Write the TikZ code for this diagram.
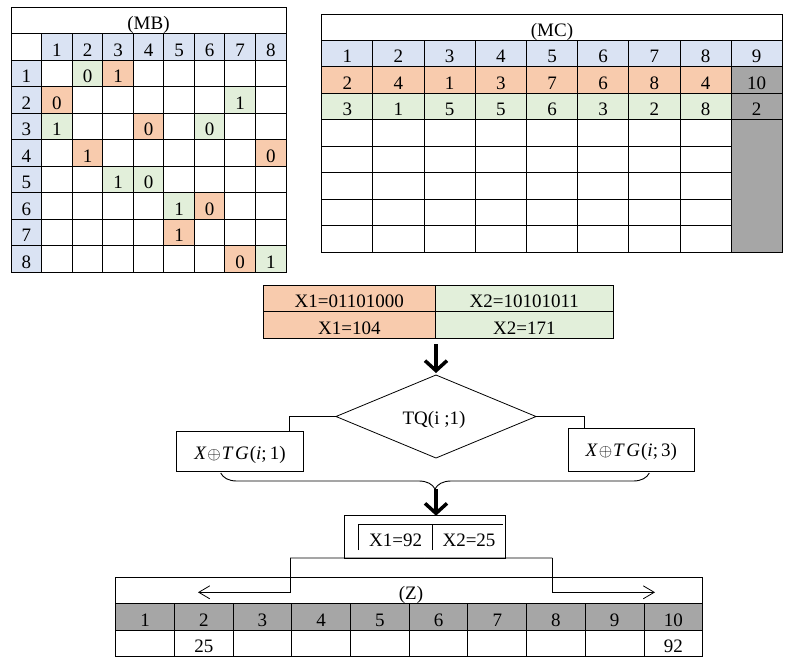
\documentclass[tikz,border=0pt]{standalone}
\usepackage{fontspec}
\setmainfont{Liberation Serif}
\usetikzlibrary{arrows.meta,shapes.geometric,decorations.pathreplacing,calc}
\definecolor{cblue}{HTML}{DAE3F3}
\definecolor{corange}{HTML}{F8CBAD}
\definecolor{cgreen}{HTML}{E2EFDA}
\definecolor{cgray}{HTML}{A6A6A6}
\newcommand{\xtg}[1]{\textit{X}\kern1pt$\oplus$\kern1pt\textit{T}\kern1.5pt\textit{G}\kern1pt(\textit{i};\,#1)}
\begin{document}
\begin{tikzpicture}[x=1pt,y=-1pt,
  font=\fontsize{19}{22}\selectfont,
  gl/.style={line width=0.9pt},
  tb/.style={anchor=base, inner sep=0pt, outer sep=0pt},
  thickarrow/.style={line width=3.5pt, -{Straight Barb[length=10pt,width=22pt]}},
  openarrow/.style={line width=0.8pt, -{Straight Barb[length=11pt,width=13pt]}},
  box/.style={draw, line width=0.9pt, inner sep=0pt, outer sep=0pt, anchor=north west}
]
\useasboundingbox (0,0) rectangle (795,665);

% ================= MB =================
\fill[cblue] (41.7,33) rectangle (286,60);
\fill[cblue] (11,60) rectangle (41.7,272);
\foreach \r/\c/\cc/\t in {1/2/cgreen/0, 1/3/corange/1, 2/1/corange/0, 2/7/cgreen/1,
  3/1/cgreen/1, 3/4/corange/0, 3/6/cgreen/0, 4/2/corange/1, 4/8/corange/0,
  5/3/cgreen/1, 5/4/cgreen/0, 6/5/cgreen/1, 6/6/corange/0, 7/5/corange/1,
  8/7/corange/0, 8/8/cgreen/1}{
  \pgfmathsetmacro\xa{41.7+30.54*(\c-1)}
  \pgfmathsetmacro\ya{60+26.5*(\r-1)}
  \fill[\cc] (\xa,\ya) rectangle ++(30.54,26.5);
  \node[tb] (mb-\r-\c) at (\xa+15.27,\ya+22.5) {\t};
}
\draw[gl] (11,33) -- (286,33);
\foreach \k in {0,...,8} \draw[gl] (11,{60+26.5*\k}) -- (286,{60+26.5*\k});
\foreach \k in {0,...,8} \draw[gl] ({41.7+30.54*\k},33) -- ({41.7+30.54*\k},272);
\node[box, minimum width=275pt, minimum height=265pt] (MB) at (11,7) {};
\node[tb] (mbt) at (148.5,29) {(MB)};
\foreach \k in {1,...,8} {
  \node[tb] (mbh\k) at ({41.7+30.54*(\k-1)+15.27},56) {\k};
  \node[tb] (mbr\k) at (26.35,{60+26.5*\k-4}) {\k};
}

% ================= MC =================
\fill[cblue] (321.7,40) rectangle (782.3,66.54);
\fill[corange] (321.7,66.54) rectangle (731.14,93.08);
\fill[cgreen] (321.7,93.08) rectangle (731.14,119.62);
\fill[cgray] (731.14,66.54) rectangle (782.3,252.6);
\foreach \yy in {40,66.54,93.08,119.62} \draw[gl] (321.7,\yy) -- (782.3,\yy);
\foreach \yy in {146.16,172.7,199.24,225.78} \draw[gl] (321.7,\yy) -- (731.14,\yy);
\foreach \k in {1,...,8} \draw[gl] ({321.7+51.18*\k},40) -- ({321.7+51.18*\k},252.6);
\node[box, minimum width=460.6pt, minimum height=238.3pt] (MC) at (321.7,14.3) {};
\node[tb] (mct) at (552,36) {(MC)};
\foreach \t [count=\k] in {1,2,3,4,5,6,7,8,9}
  \node[tb] (mca\k) at ({321.7+51.18*(\k-0.5)},62.5) {\t};
\foreach \t [count=\k] in {2,4,1,3,7,6,8,4,10}
  \node[tb] (mcb\k) at ({321.7+51.18*(\k-0.5)},89.1) {\t};
\foreach \t [count=\k] in {3,1,5,5,6,3,2,8,2}
  \node[tb] (mcc\k) at ({321.7+51.18*(\k-0.5)},115.6) {\t};

% ================= values =================
\fill[corange] (263.3,285.7) rectangle (435.3,338.3);
\fill[cgreen] (435.3,285.7) rectangle (613.3,338.3);
\draw[gl] (263.3,311.7) -- (613.3,311.7);
\draw[gl] (435.3,285.7) -- (435.3,338.3);
\node[box, minimum width=350pt, minimum height=52.6pt] (vals) at (263.3,285.7) {};
\node[tb] (v1) at (349.3,307.8) {X1=01101000};
\node[tb] (v2) at (524.3,307.8) {X2=10101011};
\node[tb] (v3) at (349.3,334) {X1=104};
\node[tb] (v4) at (524.3,334) {X2=171};

% ================= diamond =================
\node[draw, diamond, line width=0.8pt, minimum width=200pt, minimum height=83pt,
  inner sep=0pt, outer sep=0pt] (dia) at (436,416.5) {};
\node[tb] (diat) at (434,424) {TQ(i ;1)};
\draw[thickarrow] ([yshift=-6pt]vals.south -| dia.north) -- ([yshift=2pt]dia.north);

\node[box, minimum width=126.6pt, minimum height=39.3pt] (lbox) at (176.7,431.7) {};
\node[tb] (lboxt) at (240,459) {\xtg{1}};
\node[box, minimum width=126pt, minimum height=42.7pt] (rbox) at (568.3,428.3) {};
\node[tb] (rboxt) at (631.3,456) {\xtg{3}};

\coordinate (lk) at (289,416.5);
\coordinate (rk) at (584,416.5);
\draw[gl] (dia.west) -- (lk) -- (lk |- lbox.north);
\draw[gl] (dia.east) -- (rk) -- (rk |- rbox.north);

% brace
\coordinate (bl) at (220.7,473);
\coordinate (br) at (649.3,473);
\coordinate (btip) at (436,489);
\draw[gl, decorate, decoration={brace, mirror, amplitude=16pt}] (bl) -- (br);

% ================= result box =================
\node[box, minimum width=160.7pt, minimum height=42.3pt] (res) at (344.3,515.7) {};
\draw[thickarrow] (btip) -- (btip |- res.north);
\draw[gl] (358.7,550) -- (358.7,524) -- (503,524);
\draw[gl] (432.7,524) -- (432.7,550);
\node[tb] (x1r) at (395.7,546) {X1=92};
\node[tb] (x2r) at (469,546) {X2=25};

% ================= Z table =================
\fill[cgray] (115.7,603) rectangle (702.7,630);
\draw[gl] (115.7,603) -- (702.7,603);
\draw[gl] (115.7,630) -- (702.7,630);
\foreach \k in {1,...,9} \draw[gl] ({115.7+58.7*\k},603) -- ({115.7+58.7*\k},656);
\node[box, minimum width=587pt, minimum height=78.7pt] (Z) at (115.7,577.3) {};
\node[tb] (zt) at (411,599) {(Z)};
\foreach \k in {1,...,10}
  \node[tb] (zh\k) at ({115.7+58.7*(\k-0.5)},626) {\k};
\node[tb] (zv2) at ({115.7+58.7*1.5},652) {25};
\node[tb] (zv10) at ({115.7+58.7*9.5},652) {92};

% Z arrows
\coordinate (kl) at (290,558);
\coordinate (kr) at (552.3,558);
\coordinate (zl) at (198,592.3);
\coordinate (zr) at (655,592.3);
\draw[gl] (res.south) -- (kl);
\draw[gl] (res.south) -- (kr);
\draw[openarrow] (kl) -- (kl |- zl) -- (zl);
\draw[openarrow] (kr) -- (kr |- zr) -- (zr);
\end{tikzpicture}
\end{document}
